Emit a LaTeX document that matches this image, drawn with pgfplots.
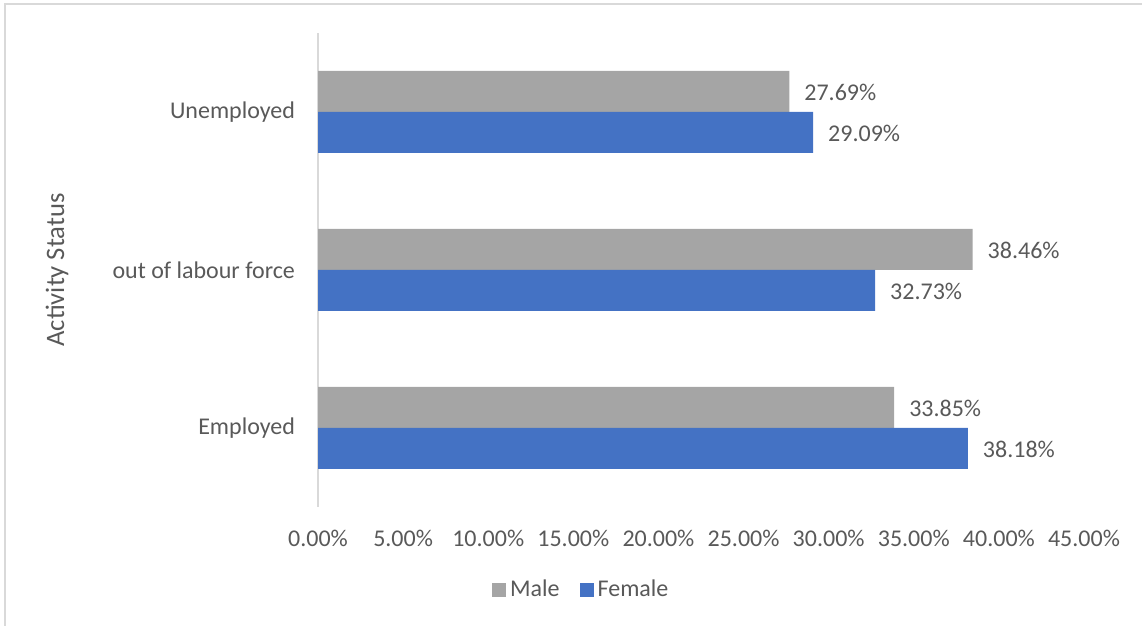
\documentclass[border=0pt]{standalone}
\usepackage{pgfplots}
\pgfplotsset{compat=1.18}
\usepackage{fontspec}
\setmainfont{Carlito}
\definecolor{malegray}{HTML}{A5A5A5}
\definecolor{femblue}{HTML}{4472C4}
\definecolor{txt}{HTML}{595959}
\definecolor{axgray}{HTML}{D9D9D9}
\begin{document}
\begin{tikzpicture}
\path[use as bounding box] (0,0) rectangle (571pt,313pt);
\draw[axgray, line width=0.8pt] (2.5pt,0pt) -- (2.5pt,311pt) -- (571pt,311pt);
\begin{axis}[
  at={(159pt,59.5pt)}, anchor=south west,
  scale only axis, width=383pt, height=237pt,
  xbar, bar width=20.5pt,
  xmin=0, xmax=45, ymin=-0.5, ymax=2.5,
  xtick={0,5,...,45},
  ytick={0,1,2},
  yticklabels={Employed, out of labour force, Unemployed},
  /pgf/number format/assume math mode=true,
  xticklabel={\pgfmathprintnumber[fixed,fixed zerofill,precision=2]{\tick}\%},
  major tick length=0pt,
  axis lines=left,
  axis line style={-},
  x axis line style={draw=none},
  y axis line style={draw=axgray, line width=1pt},
  tick label style={font=\fontsize{12}{14}\selectfont, text=txt},
  xticklabel style={yshift=-8pt},
  yticklabel style={xshift=-8pt},
  ylabel={Activity Status},
  ylabel style={at={(axis description cs:-0.3407,0.5)}, anchor=center, font=\fontsize{13.3}{15}\selectfont, text=txt},
  point meta=x,
  nodes near coords={\pgfmathprintnumber[fixed,fixed zerofill,precision=2]{\pgfplotspointmeta}\%},
  nodes near coords style={anchor=west, xshift=4pt, yshift=-0.7pt, font=\fontsize{12}{14}\selectfont, text=txt},
  legend style={at={(axis description cs:0.345,-0.175)}, anchor=center, legend columns=-1, draw=none, font=\fontsize{12}{14}\selectfont, text=txt, /tikz/every even column/.append style={column sep=8pt}},
  legend image code/.code={\fill[#1] (0pt,-3.5pt) rectangle (7pt,3.5pt);},
]
\addplot[fill=malegray, draw=none, bar shift=10.25pt] coordinates {(33.85,0) (38.46,1) (27.69,2)};
\addplot[fill=femblue, draw=none, bar shift=-10.25pt] coordinates {(38.18,0) (32.73,1) (29.09,2)};
\legend{Male, Female}
\end{axis}
\end{tikzpicture}
\end{document}
